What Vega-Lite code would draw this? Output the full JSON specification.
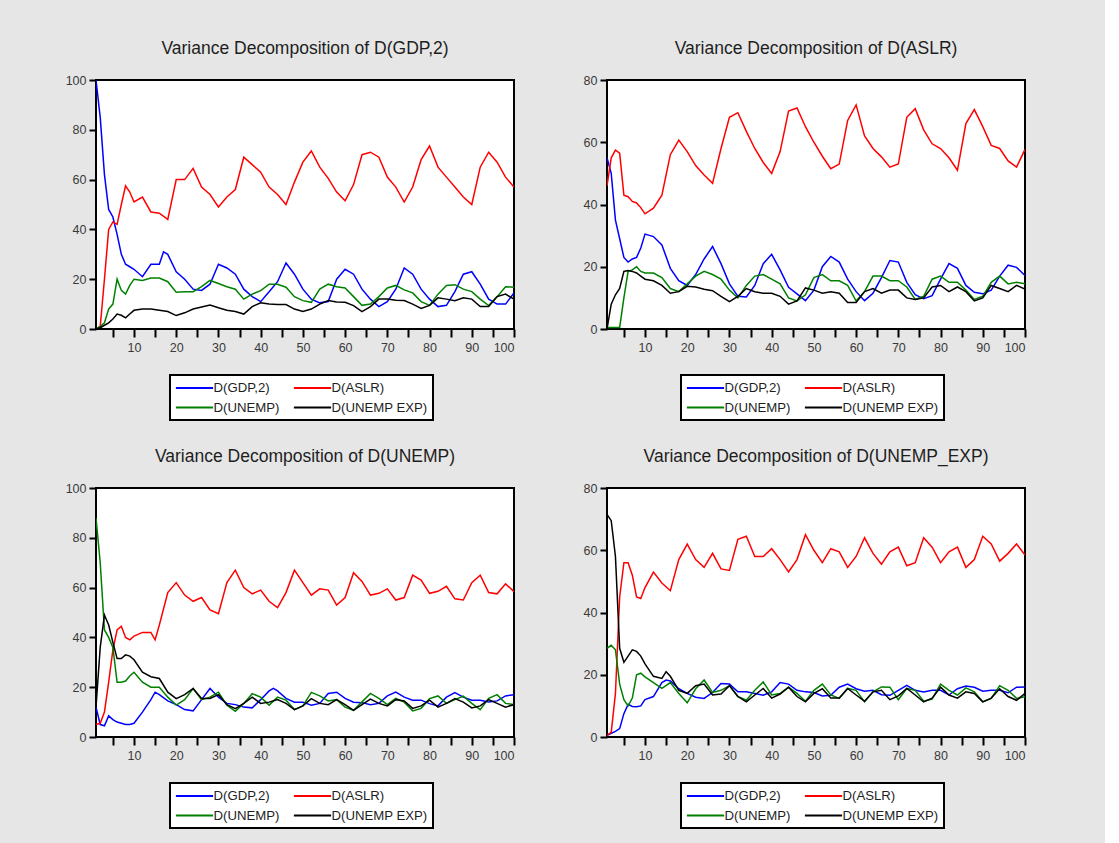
{
  "$schema": "https://vega.github.io/schema/vega-lite/v6.json",
  "background": "#e6e6e6",
  "padding": {"left": 64, "top": 38, "right": 78, "bottom": 22},
  "config": {
    "font": "Liberation Sans",
    "view": {"stroke": "#000000", "strokeWidth": 2, "fill": "#ffffff"},
    "axis": {"domain": false, "grid": false, "ticks": true, "tickColor": "#000000", "tickWidth": 2, "tickSize": 8, "labelColor": "#3a3a3a", "labelFontSize": 12.5, "labelPadding": 3, "title": null},
    "axisX": {"labelPadding": 4},
    "axisY": {"tickSize": 7},
    "title": {"fontSize": 17.5, "fontWeight": "normal", "color": "#1e1e1e", "offset": 17, "anchor": "middle"},
    "legend": {"orient": "none", "legendX": 74, "legendY": 295, "columns": 2, "direction": "horizontal", "symbolType": "M-3.1,0H3.1", "symbolSize": 144, "symbolOffset": 12, "symbolStrokeWidth": 2, "symbolFillColor": "transparent", "labelFontSize": 13.2, "labelColor": "#1e1e1e", "labelOffset": 12, "columnPadding": 10, "rowPadding": 6, "padding": 5.5, "strokeColor": "#000000", "strokeWidth": 2, "fillColor": "#ffffff", "title": null}
  },
  "datasets": {
    "p1": [
      {"t":1,"g":100,"a":0,"u":0,"e":0},{"t":2,"g":85,"a":1,"u":1,"e":0.5},{"t":3,"g":62,"a":20,"u":2.5,"e":1.5},{"t":4,"g":48,"a":40,"u":8,"e":2.5},{"t":5,"g":45,"a":43,"u":10,"e":4},{"t":6,"g":38,"a":42,"u":20,"e":6},{"t":7,"g":30,"a":50,"u":15.5,"e":5.5},{"t":8,"g":26,"a":57.5,"u":14,"e":4.5},{"t":9,"g":25,"a":55,"u":17.5,"e":6},{"t":10,"g":24,"a":51,"u":20,"e":7.5},
      {"t":12,"g":21,"a":53,"u":19.5,"e":8},{"t":14,"g":26,"a":47,"u":20.5,"e":8},{"t":16,"g":26,"a":46.5,"u":20.5,"e":7.5},{"t":17,"g":31},{"t":18,"g":30,"a":44,"u":19,"e":7},{"t":20,"g":23,"a":60,"u":14.8,"e":5.4},
      {"t":22,"g":20,"a":60,"u":15,"e":6.5},{"t":24,"g":16,"a":64.5,"u":15,"e":8},{"t":26,"g":15.5,"a":57,"u":17,"e":8.8},{"t":28,"g":18,"a":54,"u":19.5,"e":9.6},{"t":30,"g":26,"a":49,"u":18.3,"e":8.5},
      {"t":32,"g":24.5,"a":53,"u":17,"e":7.5},{"t":34,"g":22,"a":56,"u":16,"e":7},{"t":36,"g":16,"a":69,"u":12,"e":6},{"t":38,"g":13,"a":66,"u":14,"e":9},{"t":40,"g":11,"a":63,"u":15.4,"e":10.5},
      {"t":42,"g":15,"a":57,"u":18,"e":10},{"t":44,"g":19,"a":54,"u":18,"e":9.8},{"t":46,"g":26.5,"a":50,"u":16.8,"e":9.8},{"t":48,"g":22,"a":59,"u":13,"e":8},{"t":50,"g":16,"a":67,"u":11.4,"e":7},
      {"t":52,"g":12,"a":71.5,"u":10.7,"e":8},{"t":54,"g":10.5,"a":65,"u":16,"e":10},{"t":56,"g":11,"a":60.5,"u":18,"e":11.4},{"t":58,"g":20,"a":55,"u":17,"e":10.8},{"t":60,"g":24,"a":51.5,"u":16.5,"e":10.7},
      {"t":62,"g":22,"a":58,"u":13,"e":9.4},{"t":64,"g":16,"a":70,"u":9.5,"e":7},{"t":66,"g":12,"a":71,"u":10,"e":9},{"t":68,"g":9,"a":69,"u":13,"e":12},{"t":70,"g":11,"a":61,"u":16.5,"e":12},
      {"t":72,"g":16,"a":57,"u":17.5,"e":11.5},{"t":74,"g":24.5,"a":51,"u":15.7,"e":11.4},{"t":76,"g":22,"a":57,"u":14.5,"e":10},{"t":78,"g":16,"a":68,"u":11,"e":8.3},{"t":80,"g":12,"a":73.5,"u":9.5,"e":9.5},
      {"t":82,"g":9,"a":65,"u":14,"e":12.5},{"t":84,"g":9.5,"a":61,"u":17.5,"e":12},{"t":86,"g":15,"a":57,"u":17.8,"e":11.4},{"t":88,"g":22,"a":53,"u":16,"e":12.5},{"t":90,"g":23,"a":50,"u":15,"e":12},
      {"t":92,"g":18,"a":65,"u":12,"e":9},{"t":94,"g":12,"a":71,"u":9.4,"e":9},{"t":96,"g":10,"a":67,"u":13,"e":13},{"t":98,"g":10,"a":61,"u":17,"e":14},{"t":100,"g":14.5,"a":57,"u":16.8,"e":12}
    ],
    "p2": [
      {"t":1,"g":55,"a":46,"u":0.5,"e":0},{"t":2,"g":50,"a":55,"u":0.5,"e":8},{"t":3,"g":35,"a":57.5,"u":0.5,"e":11},{"t":4,"g":29,"a":56.5,"u":0.5,"e":13},{"t":5,"g":23,"a":43,"u":10,"e":18.5},{"t":6,"g":21.5,"a":42.5,"u":18.5,"e":18.8},{"t":7,"g":22.5,"a":41,"u":19,"e":18.5},{"t":8,"g":23,"a":40.5,"u":20,"e":18},{"t":9,"g":26,"a":39,"u":18.5,"e":17},{"t":10,"g":30.5,"a":37,"u":18,"e":16},
      {"t":12,"g":29.7,"a":38.8,"u":18,"e":15.5},{"t":14,"g":27,"a":43,"u":16.5,"e":14},{"t":16,"g":19.5,"a":56,"u":13,"e":11.5},{"t":18,"g":15.5,"a":60.7,"u":12,"e":12},{"t":20,"g":14,"a":57,"u":14.5,"e":13.7},
      {"t":22,"g":17.5,"a":52.5,"u":17,"e":13.5},{"t":24,"g":22.5,"a":49.5,"u":18.5,"e":12.8},{"t":26,"g":26.5,"a":46.8,"u":17.5,"e":12.3},{"t":28,"g":21,"a":58,"u":16,"e":10.5},{"t":30,"g":14.5,"a":68,"u":12.5,"e":8.8},
      {"t":32,"g":10.5,"a":69.5,"u":10,"e":10.5},{"t":34,"g":10.3,"a":63.5,"u":14,"e":13},{"t":36,"g":14,"a":58,"u":17,"e":12},{"t":38,"g":21,"a":53.5,"u":17.5,"e":11.5},{"t":40,"g":24,"a":50,"u":16,"e":11.5},
      {"t":42,"g":19,"a":57,"u":14.5,"e":10.5},{"t":44,"g":13.4,"a":70,"u":10,"e":8},{"t":46,"g":11.3,"a":71,"u":9,"e":9},{"t":48,"g":9.1,"a":65,"u":11,"e":13.2},{"t":50,"g":12.5,"a":60,"u":16.5,"e":12.5},
      {"t":52,"g":20,"a":55.5,"u":17.5,"e":11.5},{"t":54,"g":23.3,"a":51.5,"u":15.5,"e":12},{"t":56,"g":21.5,"a":53,"u":15.5,"e":11.5},{"t":58,"g":16,"a":67,"u":14,"e":8.5},{"t":60,"g":12,"a":72,"u":9,"e":8.5},
      {"t":62,"g":9.1,"a":62,"u":12,"e":12},{"t":64,"g":11.5,"a":58,"u":17,"e":13},{"t":66,"g":16.5,"a":55.3,"u":17,"e":11.5},{"t":68,"g":22,"a":52,"u":15.5,"e":12.5},{"t":70,"g":21.5,"a":53,"u":15.5,"e":12.5},
      {"t":72,"g":15,"a":68,"u":13.5,"e":10},{"t":74,"g":11,"a":70.8,"u":9.5,"e":9.5},{"t":76,"g":9.7,"a":64,"u":10.5,"e":10},{"t":78,"g":10.7,"a":59.5,"u":16,"e":13.5},{"t":80,"g":16,"a":58,"u":17,"e":14},
      {"t":82,"g":21,"a":55,"u":15,"e":12},{"t":84,"g":19.5,"a":51,"u":15,"e":13.5},{"t":86,"g":14,"a":66,"u":12.5,"e":12},{"t":88,"g":11.8,"a":70.5,"u":9.5,"e":9},{"t":90,"g":11.3,"a":65,"u":10.5,"e":10},
      {"t":92,"g":12.5,"a":59,"u":15,"e":14},{"t":94,"g":17,"a":58,"u":17,"e":13},{"t":96,"g":20.5,"a":54,"u":14.5,"e":12},{"t":98,"g":19.8,"a":52,"u":15,"e":14},{"t":100,"g":17.2,"a":57.7,"u":14.5,"e":12.8}
    ],
    "p3": [
      {"t":1,"g":12,"a":5,"u":88,"e":12},{"t":2,"g":5,"a":5.5,"u":70,"e":36},{"t":3,"g":4.5,"a":10,"u":43,"e":49},{"t":4,"g":8.5,"a":22,"u":40,"e":45},{"t":5,"g":7,"a":35,"u":36,"e":38},{"t":6,"g":6,"a":43,"u":22,"e":31.5},{"t":7,"g":5.5,"a":44.5,"u":22,"e":31.5},{"t":8,"g":5,"a":40,"u":22.5,"e":33},{"t":9,"g":5,"a":39,"u":24.5,"e":32.5},{"t":10,"g":5.5,"a":40.5,"u":26,"e":31},
      {"t":12,"g":10,"a":42,"u":22,"e":26},{"t":14,"g":15,"a":42,"u":20,"e":24.2},{"t":15,"g":18,"a":39},{"t":16,"g":17,"a":45,"u":20,"e":23.5},{"t":18,"g":14.5,"a":58,"u":16,"e":18},{"t":20,"g":13,"a":62,"u":12.8,"e":15.4},
      {"t":22,"g":11,"a":57,"u":15,"e":17},{"t":24,"g":10.5,"a":54.5,"u":19.5,"e":19.5},{"t":26,"g":15,"a":56,"u":15,"e":15.5},{"t":28,"g":19.5,"a":51,"u":16,"e":15.5},{"t":30,"g":16,"a":49.5,"u":18,"e":17},
      {"t":32,"g":13.5,"a":62,"u":12.8,"e":13},{"t":34,"g":13,"a":67,"u":10.3,"e":11.4},{"t":36,"g":12,"a":60,"u":13.5,"e":13.5},{"t":38,"g":11.7,"a":57.5,"u":17.4,"e":16},{"t":40,"g":15,"a":59,"u":16,"e":13.5},
      {"t":42,"g":18.5,"a":54.5,"u":12.8,"e":14},{"t":43,"g":19.5},{"t":44,"g":18.5,"a":52,"u":16,"e":15},{"t":46,"g":15.5,"a":58,"u":14.8,"e":13.5},{"t":48,"g":14,"a":67,"u":11,"e":11},{"t":50,"g":14,"a":62,"u":12.5,"e":12.5},
      {"t":52,"g":12.8,"a":57,"u":17.9,"e":15.4},{"t":54,"g":13.5,"a":59.5,"u":16.5,"e":13.5},{"t":56,"g":17.5,"a":59,"u":14.5,"e":13},{"t":58,"g":18,"a":53,"u":15,"e":15},{"t":60,"g":15.5,"a":56,"u":12,"e":13},
      {"t":62,"g":14,"a":66,"u":10.7,"e":10.7},{"t":64,"g":13.8,"a":62.5,"u":14.1,"e":13},{"t":66,"g":13,"a":57,"u":17.5,"e":15.2},{"t":68,"g":13.5,"a":57.7,"u":15.5,"e":13.5},{"t":70,"g":16.5,"a":59.5,"u":13,"e":12.5},
      {"t":72,"g":18,"a":55,"u":15.5,"e":15},{"t":74,"g":16,"a":56,"u":14,"e":14.5},{"t":76,"g":14.8,"a":65,"u":10.5,"e":11.5},{"t":78,"g":14.8,"a":63,"u":11.5,"e":12.5},{"t":80,"g":13.4,"a":57.7,"u":15.4,"e":14.8},
      {"t":82,"g":12.5,"a":58.5,"u":16.5,"e":12},{"t":84,"g":16,"a":60.5,"u":13.5,"e":13.5},{"t":86,"g":17.8,"a":55.5,"u":15,"e":15.4},{"t":88,"g":16,"a":55,"u":16.4,"e":14},{"t":90,"g":14.8,"a":62,"u":13.5,"e":11.7},
      {"t":92,"g":14.8,"a":65,"u":11,"e":12.5},{"t":94,"g":14.1,"a":58,"u":15.5,"e":15},{"t":96,"g":14.5,"a":57.5,"u":17,"e":13.5},{"t":98,"g":16.5,"a":61.5,"u":13.5,"e":12},{"t":100,"g":17,"a":58.4,"u":13,"e":13}
    ],
    "p4": [
      {"t":1,"g":0.5,"a":0.5,"u":28.5,"e":71.5},{"t":2,"g":1.2,"a":1.5,"u":29.5,"e":69.5},{"t":3,"g":1.8,"a":14,"u":28,"e":58},{"t":4,"g":2.7,"a":45,"u":17,"e":28.5},{"t":5,"g":7.5,"a":56,"u":12,"e":24},{"t":6,"g":10.5,"a":56,"u":10,"e":26},{"t":7,"g":9.8,"a":52,"u":12.5,"e":28},{"t":8,"g":9.7,"a":45,"u":20,"e":27.5},{"t":9,"g":10,"a":44.5,"u":20.5,"e":26},{"t":10,"g":12,"a":48,"u":19.3,"e":23.5},
      {"t":12,"g":13,"a":53,"u":17.5,"e":19.5},{"t":14,"g":17.5,"a":49.5,"u":15.6,"e":18.8},{"t":15,"g":18.3,"e":21},{"t":16,"g":18,"a":47,"u":17.5,"e":19.5},{"t":18,"g":15.5,"a":57,"u":14,"e":15},{"t":20,"g":14,"a":62,"u":11,"e":14},
      {"t":22,"g":12.8,"a":57,"u":15.5,"e":16.5},{"t":24,"g":12.4,"a":54.5,"u":18.3,"e":17},{"t":26,"g":14.3,"a":59,"u":14.3,"e":13.5},{"t":28,"g":17.2,"a":54,"u":15,"e":13.8},{"t":30,"g":17,"a":53.5,"u":16.5,"e":16.5},
      {"t":32,"g":14.5,"a":63.5,"u":13,"e":13},{"t":34,"g":14.5,"a":64.5,"u":11.8,"e":11.3},{"t":36,"g":14,"a":58,"u":15,"e":13.5},{"t":38,"g":13.4,"a":58,"u":17.7,"e":15.6},{"t":40,"g":14.5,"a":60.5,"u":13.5,"e":12.5},
      {"t":42,"g":17.5,"a":57,"u":14,"e":13.8},{"t":44,"g":17,"a":53,"u":16,"e":16},{"t":46,"g":15,"a":57,"u":14,"e":13},{"t":48,"g":14.5,"a":65,"u":11.5,"e":11.3},{"t":50,"g":14.3,"a":60,"u":15,"e":14},
      {"t":52,"g":13.2,"a":56,"u":17,"e":15.5},{"t":54,"g":13.4,"a":60.5,"u":13.5,"e":12.5},{"t":56,"g":16,"a":59.5,"u":12.4,"e":12.5},{"t":58,"g":17,"a":54.5,"u":15.6,"e":15.6},{"t":60,"g":15.5,"a":58,"u":15,"e":13.5},
      {"t":62,"g":14.7,"a":64,"u":11.3,"e":11.5},{"t":64,"g":15,"a":59,"u":14.5,"e":14.5},{"t":66,"g":13.6,"a":55.5,"u":16.1,"e":15},{"t":68,"g":13.4,"a":59.5,"u":16,"e":12},{"t":70,"g":15,"a":61,"u":12,"e":13.2},
      {"t":72,"g":16.6,"a":55,"u":15.6,"e":15.6},{"t":74,"g":15,"a":56,"u":15,"e":13.5},{"t":76,"g":14.5,"a":64,"u":11.5,"e":11.3},{"t":78,"g":15,"a":61,"u":12.2,"e":12.5},{"t":80,"g":15,"a":56,"u":17,"e":16},
      {"t":82,"g":13.5,"a":59.5,"u":15,"e":13.5},{"t":84,"g":15.5,"a":61,"u":13.5,"e":12.5},{"t":86,"g":16.4,"a":54.5,"u":15.8,"e":14.5},{"t":88,"g":16,"a":57,"u":14.5,"e":14},{"t":90,"g":14.7,"a":64.5,"u":11.3,"e":11.3},
      {"t":92,"g":15,"a":62,"u":12.4,"e":12.5},{"t":94,"g":15,"a":56.5,"u":16.5,"e":15.5},{"t":96,"g":14.2,"a":59,"u":15,"e":13},{"t":98,"g":16,"a":62,"u":12.4,"e":11.8},{"t":100,"g":16.1,"a":58.5,"u":12.9,"e":14}
    ]
  },
  "columns": 2,
  "spacing": {"row": 159, "column": 93},
  "bounds": "flush",
  "resolve": {"scale": {"x": "independent", "y": "independent", "color": "independent"}, "axis": {"x": "independent", "y": "independent"}, "legend": {"color": "independent"}},
  "concat": [
    {
      "title": "Variance Decomposition of D(GDP,2)",
      "width": 418, "height": 249,
      "data": {"name": "p1"},
      "transform": [{"fold": ["g", "a", "u", "e"], "as": ["s", "v"]}, {"filter": "isValid(datum.v)"}],
      "mark": {"type": "line", "strokeWidth": 1.5, "clip": true},
      "encoding": {
        "x": {"field": "t", "type": "quantitative", "scale": {"domain": [1, 100], "nice": false, "zero": false}, "axis": {"values": [5,10,15,20,25,30,35,40,45,50,55,60,65,70,75,80,85,90,95,100], "labelExpr": "datum.value % 10 === 0 ? datum.label : ''"}},
        "y": {"field": "v", "type": "quantitative", "scale": {"domain": [0, 100], "nice": false}, "axis": {"values": [0,20,40,60,80,100]}},
        "color": {"field": "s", "type": "nominal", "scale": {"domain": ["g", "a", "u", "e"], "range": ["#0000ff", "#ff0000", "#008000", "#000000"]}, "legend": {"labelExpr": "datum.label === 'g' ? 'D(GDP,2)' : datum.label === 'a' ? 'D(ASLR)' : datum.label === 'u' ? 'D(UNEMP)' : 'D(UNEMP EXP)'"}}
      }
    },
    {
      "title": "Variance Decomposition of D(ASLR)",
      "width": 418, "height": 249,
      "data": {"name": "p2"},
      "transform": [{"fold": ["g", "a", "u", "e"], "as": ["s", "v"]}, {"filter": "isValid(datum.v)"}],
      "mark": {"type": "line", "strokeWidth": 1.5, "clip": true},
      "encoding": {
        "x": {"field": "t", "type": "quantitative", "scale": {"domain": [1, 100], "nice": false, "zero": false}, "axis": {"values": [5,10,15,20,25,30,35,40,45,50,55,60,65,70,75,80,85,90,95,100], "labelExpr": "datum.value % 10 === 0 ? datum.label : ''"}},
        "y": {"field": "v", "type": "quantitative", "scale": {"domain": [0, 80], "nice": false}, "axis": {"values": [0,20,40,60,80]}},
        "color": {"field": "s", "type": "nominal", "scale": {"domain": ["g", "a", "u", "e"], "range": ["#0000ff", "#ff0000", "#008000", "#000000"]}, "legend": {"labelExpr": "datum.label === 'g' ? 'D(GDP,2)' : datum.label === 'a' ? 'D(ASLR)' : datum.label === 'u' ? 'D(UNEMP)' : 'D(UNEMP EXP)'"}}
      }
    },
    {
      "title": "Variance Decomposition of D(UNEMP)",
      "width": 418, "height": 249,
      "data": {"name": "p3"},
      "transform": [{"fold": ["g", "a", "u", "e"], "as": ["s", "v"]}, {"filter": "isValid(datum.v)"}],
      "mark": {"type": "line", "strokeWidth": 1.5, "clip": true},
      "encoding": {
        "x": {"field": "t", "type": "quantitative", "scale": {"domain": [1, 100], "nice": false, "zero": false}, "axis": {"values": [5,10,15,20,25,30,35,40,45,50,55,60,65,70,75,80,85,90,95,100], "labelExpr": "datum.value % 10 === 0 ? datum.label : ''"}},
        "y": {"field": "v", "type": "quantitative", "scale": {"domain": [0, 100], "nice": false}, "axis": {"values": [0,20,40,60,80,100]}},
        "color": {"field": "s", "type": "nominal", "scale": {"domain": ["g", "a", "u", "e"], "range": ["#0000ff", "#ff0000", "#008000", "#000000"]}, "legend": {"labelExpr": "datum.label === 'g' ? 'D(GDP,2)' : datum.label === 'a' ? 'D(ASLR)' : datum.label === 'u' ? 'D(UNEMP)' : 'D(UNEMP EXP)'"}}
      }
    },
    {
      "title": "Variance Decomposition of D(UNEMP_EXP)",
      "width": 418, "height": 249,
      "data": {"name": "p4"},
      "transform": [{"fold": ["g", "a", "u", "e"], "as": ["s", "v"]}, {"filter": "isValid(datum.v)"}],
      "mark": {"type": "line", "strokeWidth": 1.5, "clip": true},
      "encoding": {
        "x": {"field": "t", "type": "quantitative", "scale": {"domain": [1, 100], "nice": false, "zero": false}, "axis": {"values": [5,10,15,20,25,30,35,40,45,50,55,60,65,70,75,80,85,90,95,100], "labelExpr": "datum.value % 10 === 0 ? datum.label : ''"}},
        "y": {"field": "v", "type": "quantitative", "scale": {"domain": [0, 80], "nice": false}, "axis": {"values": [0,20,40,60,80]}},
        "color": {"field": "s", "type": "nominal", "scale": {"domain": ["g", "a", "u", "e"], "range": ["#0000ff", "#ff0000", "#008000", "#000000"]}, "legend": {"labelExpr": "datum.label === 'g' ? 'D(GDP,2)' : datum.label === 'a' ? 'D(ASLR)' : datum.label === 'u' ? 'D(UNEMP)' : 'D(UNEMP EXP)'"}}
      }
    }
  ]
}
